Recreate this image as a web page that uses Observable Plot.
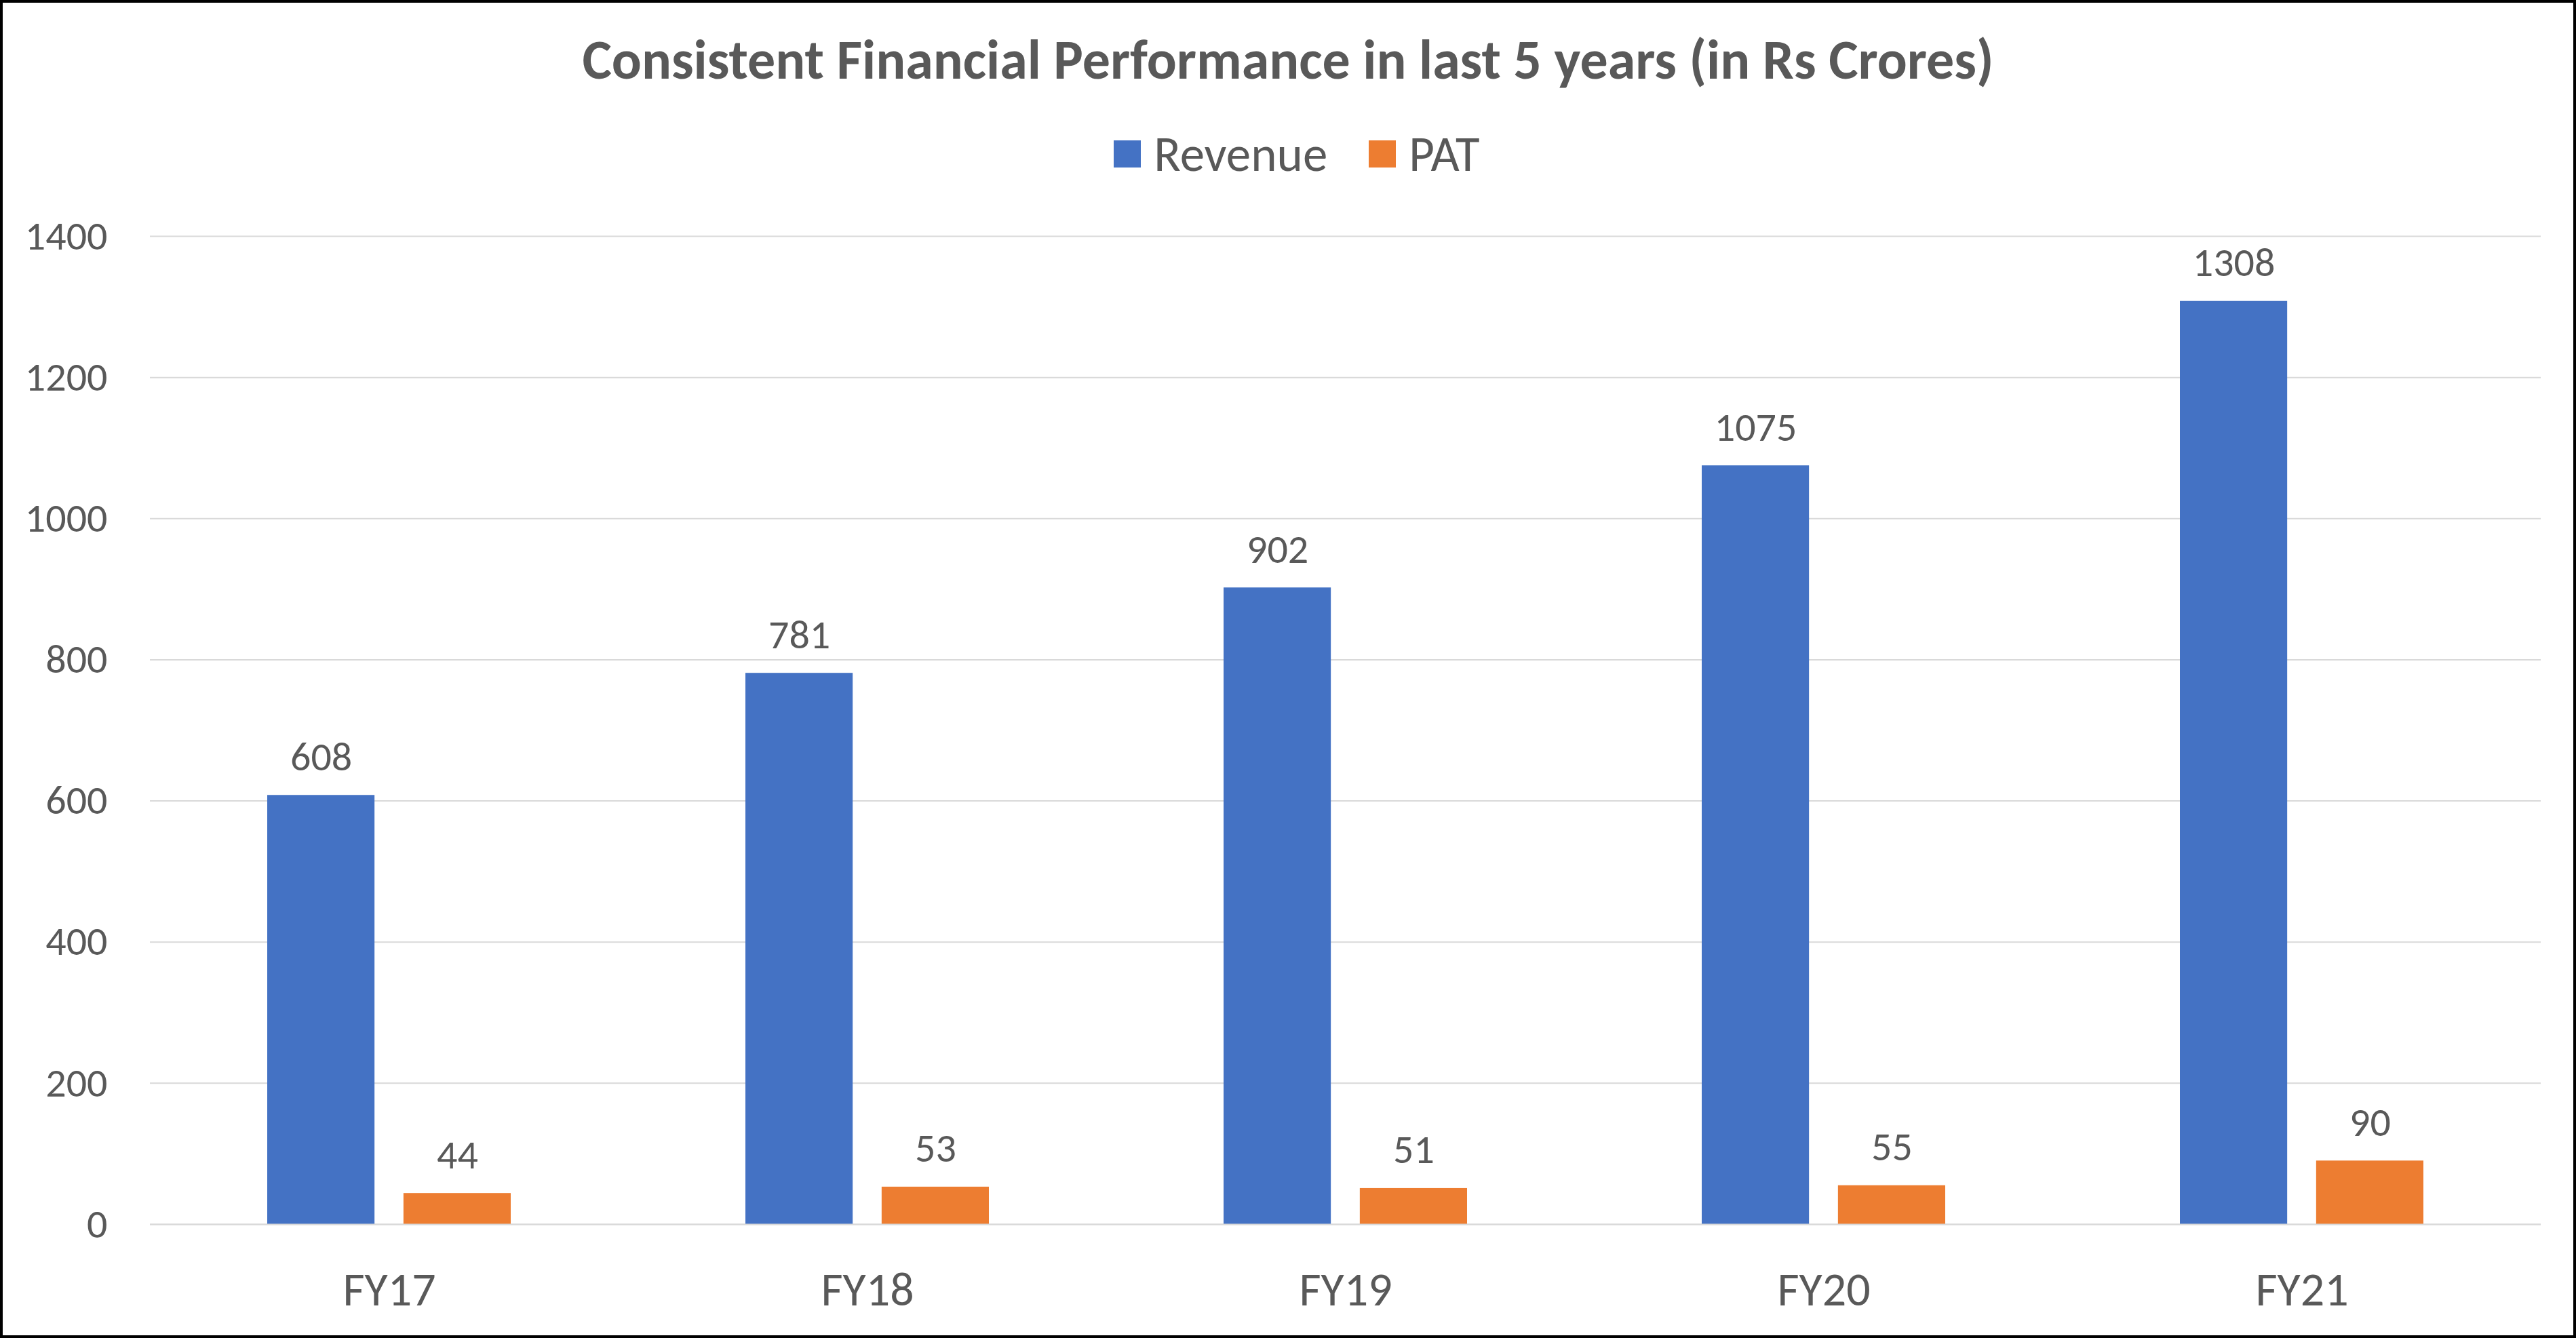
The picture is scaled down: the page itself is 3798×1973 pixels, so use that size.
<!DOCTYPE html>
<html>
<head>
<meta charset="utf-8">
<script src="https://cdn.jsdelivr.net/npm/d3@7"></script>
<script src="https://cdn.jsdelivr.net/npm/@observablehq/plot@0.6"></script>
<style>
  html, body { margin: 0; padding: 0; background: #fff; }
  #frame {
    position: relative; width: 3798px; height: 1973px; box-sizing: border-box;
    border: 4px solid #000; background: #fff; overflow: hidden;
    font-family: Carlito, Calibri, Lato, sans-serif; color: #595959;
  }
  #title {
    position: absolute; left: 0; top: 34px; width: 100%; text-align: center;
    font-weight: bold; font-size: 82px; line-height: 100px; white-space: nowrap;
  }
  #legend {
    position: absolute; left: 0; top: 193px; width: 100%; height: 60px;
    display: flex; justify-content: center; align-items: center; font-size: 73px;
    padding-left: 26px; box-sizing: border-box;
  }
  .item { display: flex; align-items: center; }
  .sw { width: 40px; height: 40px; margin-right: 19px; }
  #chart { position: absolute; left: 0; top: 276px; }
</style>
</head>
<body>
<div id="frame">
  <div id="title"></div>
  <div id="legend"></div>
  <div id="chart"></div>
</div>
<script>
const titleText = "Consistent Financial Performance in last 5 years (in Rs Crores)";
const years = ["FY17", "FY18", "FY19", "FY20", "FY21"];
const revenue = [608, 781, 902, 1075, 1308];
const pat = [44, 53, 51, 55, 90];
const seriesNames = ["Revenue", "PAT"];
const seriesColors = ["#4472C4", "#ED7D31"];
const yTicks = [0, 200, 400, 600, 800, 1000, 1200, 1400];

const data = years.map((y, i) => ({year: y, revenue: revenue[i], pat: pat[i]}));

document.getElementById("title").textContent = titleText;
const legend = document.getElementById("legend");
seriesNames.forEach((name, i) => {
  const it = document.createElement("div");
  it.className = "item";
  if (i > 0) it.style.marginLeft = "61px";
  const sw = document.createElement("div");
  sw.className = "sw";
  sw.style.background = seriesColors[i];
  const t = document.createElement("span");
  t.textContent = name;
  it.appendChild(sw); it.appendChild(t);
  legend.appendChild(it);
});

const W = 3790, H = 1689;
const mL = 217, mR = 48, mT = 68, mB = 164;
const pIn = 0.491;
const bw = (W - mL - mR) / years.length * (1 - pIn);
const barW = 158;
const inset = bw - barW;
const half = bw / 2 - barW / 2; // offset of sub-bar centre from band centre

const font = "Carlito, Calibri, Lato, sans-serif";
const chart = Plot.plot({
  width: W, height: H,
  marginLeft: mL, marginRight: mR, marginTop: mT, marginBottom: mB,
  style: {fontFamily: font, color: "#595959", background: "transparent", overflow: "visible"},
  x: {type: "band", domain: years, paddingInner: pIn, paddingOuter: pIn / 2, label: null},
  y: {domain: [0, 1400], label: null},
  marks: [
    Plot.gridY(yTicks, {stroke: "#D9D9D9", strokeOpacity: 1, strokeWidth: 2}),
    Plot.barY(data, {x: "year", y: "revenue", fill: seriesColors[0], insetRight: inset}),
    Plot.barY(data, {x: "year", y: "pat", fill: seriesColors[1], insetLeft: inset}),
    Plot.ruleY([0], {stroke: "#D9D9D9", strokeWidth: 2}),
    Plot.text(data, {x: "year", y: "revenue", text: d => String(d.revenue), dx: -half, dy: -37,
      lineAnchor: "bottom", fontSize: 60, fill: "#595959"}),
    Plot.text(data, {x: "year", y: "pat", text: d => String(d.pat), dx: half, dy: -37,
      lineAnchor: "bottom", fontSize: 60, fill: "#595959"}),
    Plot.axisY(yTicks, {tickSize: 0, tickPadding: 63, fontSize: 60, fill: "#595959", label: null,
      tickFormat: d => String(d)}),
    Plot.axisX({tickSize: 0, tickPadding: 70, fontSize: 70, fill: "#595959", label: null})
  ]
});
document.getElementById("chart").appendChild(chart);
</script>
</body>
</html>
